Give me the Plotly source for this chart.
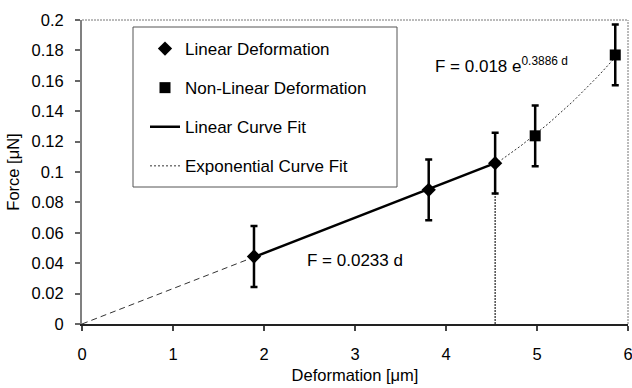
import numpy as np
import plotly.graph_objects as go

# ---- data ----
lin_d = [1.89, 3.81, 4.54]
lin_f = [0.0444, 0.0883, 0.1058]
lin_err = [0.020, 0.020, 0.020]

nonlin_d = [4.98, 5.86]
nonlin_f = [0.1238, 0.1770]
nonlin_err = [0.020, 0.020]

lin_coef = 0.0233            # F = 0.0233 d
exp_a, exp_b = 0.018, 0.3886  # F = 0.018 e^(0.3886 d)

x_ticks = [0, 1, 2, 3, 4, 5, 6]
y_ticks = [0, 0.02, 0.04, 0.06, 0.08, 0.1, 0.12, 0.14, 0.16, 0.18, 0.2]
y_tick_text = ["0", "0.02", "0.04", "0.06", "0.08", "0.1", "0.12", "0.14", "0.16", "0.18", "0.2"]

FONT = "Liberation Sans, Arial, sans-serif"

fig = go.Figure()

# dashed extension of linear fit to origin
ext_d = [0, lin_d[0]]
fig.add_trace(go.Scatter(x=ext_d, y=[lin_coef * d for d in ext_d], mode="lines",
                         line=dict(color="#333333", width=1, dash="6px,4px"),
                         showlegend=False, hoverinfo="skip"))

# vertical dotted line at the transition point
fig.add_trace(go.Scatter(x=[lin_d[-1], lin_d[-1]], y=[0, lin_f[-1]], mode="lines",
                         line=dict(color="#333333", width=1.3, dash="2px,1px"),
                         showlegend=False, hoverinfo="skip"))

# exponential fit (dotted)
exp_d = np.linspace(lin_d[-1], nonlin_d[-1], 40)
fig.add_trace(go.Scatter(x=exp_d, y=exp_a * np.exp(exp_b * exp_d), mode="lines",
                         name="Exponential Curve Fit", legendgroup="g4", legendrank=4,
                         line=dict(color="#333333", width=1, dash="2px,2px")))

# linear fit (solid)
fit_d = [lin_d[0], lin_d[-1]]
fig.add_trace(go.Scatter(x=fit_d, y=[lin_coef * d for d in fit_d], mode="lines",
                         name="Linear Curve Fit", legendgroup="g3", legendrank=3,
                         line=dict(color="black", width=2.5)))

# data points
fig.add_trace(go.Scatter(x=lin_d, y=lin_f, mode="markers", name="Linear Deformation",
                         legendgroup="g1", legendrank=1,
                         marker=dict(symbol="diamond", size=11, color="black"),
                         error_y=dict(type="data", array=lin_err, color="black",
                                      thickness=2.5, width=3.5)))
fig.add_trace(go.Scatter(x=nonlin_d, y=nonlin_f, mode="markers", name="Non-Linear Deformation",
                         legendgroup="g2", legendrank=2,
                         marker=dict(symbol="square", size=11, color="black"),
                         error_y=dict(type="data", array=nonlin_err, color="black",
                                      thickness=2.5, width=3.5)))

fig.update_layout(
    width=632, height=388,
    margin=dict(l=82, r=4, t=20, b=64, autoexpand=False),
    paper_bgcolor="white", plot_bgcolor="white",
    font=dict(family=FONT, size=16.5, color="black"),
    showlegend=True,
    legend=dict(x=(145 - 82) / 546, y=(324 - 31) / 304, xanchor="left", yanchor="top",
                bgcolor="rgba(0,0,0,0)", borderwidth=0,
                font=dict(size=17, family=FONT), traceorder="grouped",
                tracegroupgap=14, itemwidth=30),
    xaxis=dict(range=[0, 6], tickvals=x_ticks, showgrid=False, zeroline=False,
               showline=True, linecolor="#222222", linewidth=2, automargin=False,
               ticks="outside", ticklen=5, tickwidth=1.5, tickcolor="#444444",
               ticklabelstandoff=9, ticklabeloverflow="allow", tickfont=dict(size=16.5),
               title=dict(text="Deformation [μm]", font=dict(size=16.5), standoff=8)),
    yaxis=dict(range=[0, 0.2], tickvals=y_ticks, ticktext=y_tick_text, showgrid=False,
               zeroline=False, showline=True, linecolor="#808080", linewidth=2,
               automargin=False,
               ticks="outside", ticklen=5, tickwidth=1.5, tickcolor="#666666",
               ticklabelstandoff=8, ticklabeloverflow="allow", tickfont=dict(size=16.5),
               title=dict(text="Force [μN]", font=dict(size=16.5), standoff=8)),
    shapes=[
        # dotted top and right borders
        dict(type="line", xref="paper", yref="paper", x0=0, x1=1, y0=1, y1=1,
             line=dict(color="#777777", width=1, dash="2px,1px")),
        dict(type="line", xref="paper", yref="paper", x0=1, x1=1, y0=0, y1=1,
             line=dict(color="#777777", width=1, dash="2px,1px")),
        # legend box
        dict(type="rect", xref="paper", yref="paper",
             x0=(133 - 82) / 546, x1=(397 - 82) / 546,
             y0=(324 - 187) / 304, y1=(324 - 27) / 304,
             line=dict(color="#555555", width=1), fillcolor="white", layer="below"),
    ],
    annotations=[
        dict(x=3.86, y=0.1704, xref="x", yref="y", xanchor="left", yanchor="middle",
             text="F = 0.018 e<sup>0.3886 d</sup>", showarrow=False, font=dict(size=17)),
        dict(x=2.45, y=0.0416, xref="x", yref="y", xanchor="left", yanchor="middle",
             text="F = 0.0233 d", showarrow=False, font=dict(size=17)),
    ],
)

fig.write_html("out.html")
